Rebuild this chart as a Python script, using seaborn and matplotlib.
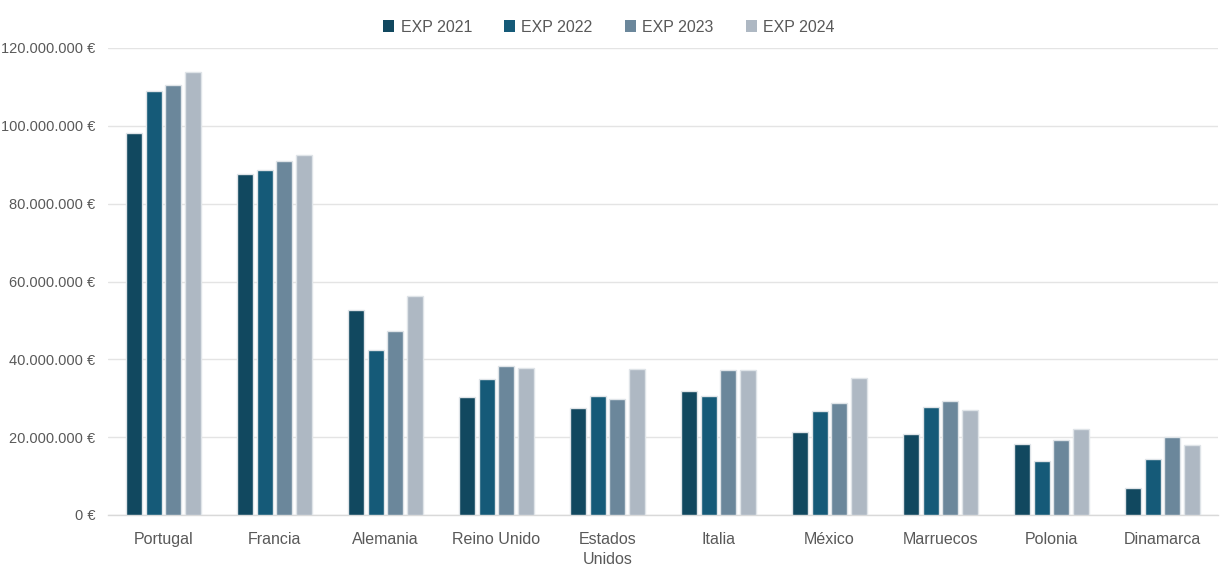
import matplotlib
matplotlib.use("Agg")
import matplotlib.pyplot as plt
import seaborn as sns
import pandas as pd
from matplotlib.ticker import FuncFormatter, FixedLocator
from matplotlib.patches import Patch

countries = ["Portugal", "Francia", "Alemania", "Reino Unido", "Estados\nUnidos",
             "Italia", "México", "Marruecos", "Polonia", "Dinamarca"]
series = ["EXP 2021", "EXP 2022", "EXP 2023", "EXP 2024"]
exp_2021 = [98.1, 87.6, 52.7, 30.4, 27.5, 31.8, 21.2, 20.8, 18.2, 7.0]
exp_2022 = [108.9, 88.6, 42.3, 35.0, 30.6, 30.6, 26.6, 27.7, 13.9, 14.4]
exp_2023 = [110.5, 91.0, 47.2, 38.4, 29.7, 37.3, 28.7, 29.2, 19.2, 20.0]
exp_2024 = [113.8, 92.5, 56.4, 37.9, 37.4, 37.3, 35.1, 26.9, 22.0, 17.9]
colors = ["#11485f", "#155a78", "#6b879b", "#aeb8c3"]

rows = []
for s, vals in zip(series, [exp_2021, exp_2022, exp_2023, exp_2024]):
    for c, v in zip(countries, vals):
        rows.append({"País": c, "Serie": s, "Valor": v * 1e6})
df = pd.DataFrame(rows)

sns.set_theme(style="white")
plt.rcParams["font.family"] = ["Liberation Sans", "DejaVu Sans"]

fig = plt.figure(figsize=(12.25, 5.76), dpi=100)
ax = fig.add_axes([108 / 1225, 1 - 515 / 576, (1218 - 108) / 1225, (515 - 48) / 576])

sns.barplot(data=df, x="País", y="Valor", hue="Serie", order=countries,
            hue_order=series, palette=colors, saturation=1, width=0.72, gap=0.2,
            edgecolor="#dfe4e8", linewidth=1.0, ax=ax, legend=False, zorder=3)

ax.set_ylim(0, 120e6)
ax.set_xlim(-0.5, len(countries) - 0.5)
ax.set_yticks([i * 20e6 for i in range(7)])
ax.yaxis.set_major_formatter(FuncFormatter(lambda v, p: f"{int(v):,}".replace(",", ".") + " €"))
ax.yaxis.grid(True, color="#e4e4e4", linewidth=1.0, zorder=0)
ax.set_axisbelow(True)
ax.set_xlabel("")
ax.set_ylabel("")
for side in ["top", "right", "left"]:
    ax.spines[side].set_visible(False)
ax.spines["bottom"].set_color("#d9d9d9")
ax.spines["bottom"].set_linewidth(1.0)

ax.tick_params(axis="y", length=0, labelsize=10.5, labelcolor="#595959", pad=9)
ax.tick_params(axis="x", which="major", length=0, labelsize=11.5, labelcolor="#595959", pad=12)
for lbl in ax.get_xticklabels():
    lbl.set_linespacing(1.45)
ax.xaxis.set_minor_locator(FixedLocator([i - 0.5 for i in range(len(countries) + 1)]))
ax.tick_params(axis="x", which="minor", length=5, color="#d9d9d9", width=1.0)

handles = [Patch(facecolor=c, edgecolor="none", label=s) for c, s in zip(colors, series)]
fig.legend(handles=handles, loc="center", bbox_to_anchor=(0.497, 1 - 27 / 576), ncol=4,
           frameon=False, fontsize=11.5, labelcolor="#595959", handlelength=0.7,
           handleheight=0.7, handletextpad=0.4, columnspacing=2.0)

fig.savefig("out.png", dpi=100)
